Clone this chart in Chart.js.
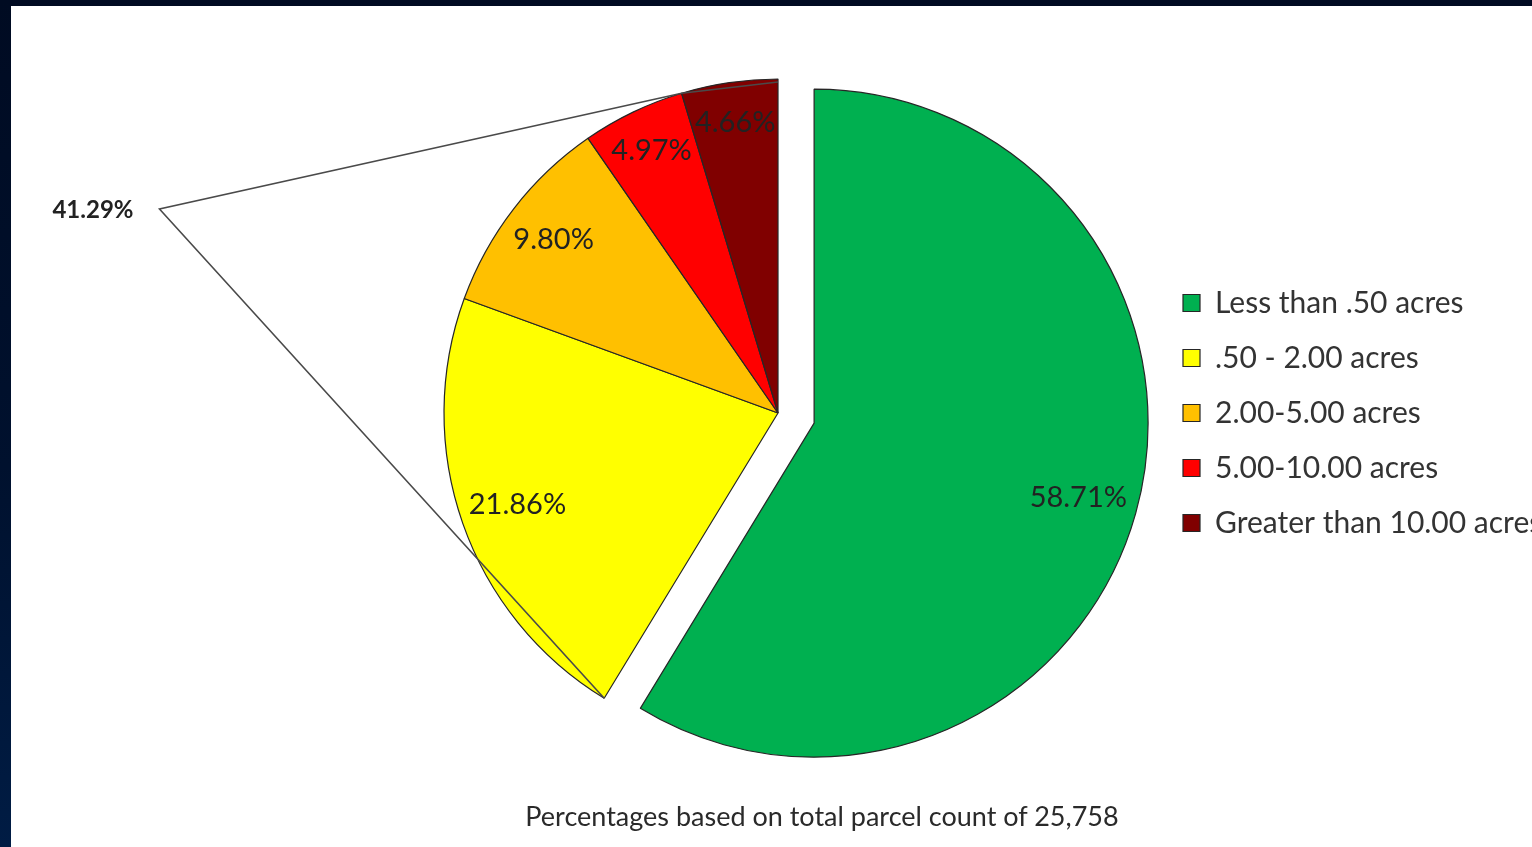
<!DOCTYPE html>
<html>
<head>
<meta charset="utf-8">
<title>Parcel size distribution</title>
<script src="https://cdn.jsdelivr.net/npm/chart.js@4.4.0/dist/chart.umd.min.js"></script>
<style>
  html, body { margin: 0; padding: 0; width: 1532px; height: 847px; overflow: hidden; }
  body { position: relative; background: linear-gradient(180deg, #000b22 0%, #00112e 55%, #001c44 100%); }
  #panel { position: absolute; left: 11px; top: 6px; width: 1521px; height: 841px; background: #fff; overflow: hidden; }
  #myChartPie { position: absolute; left: 0; top: 0; }
  #note { position: absolute; left: 361px; width: 900px; top: 794px; text-align: center;
          font-family: Lato, sans-serif; font-size: 27px; line-height: 32px; color: #2a2a2a; }
</style>
</head>
<body>
<div id="panel">
  <canvas id="myChartPie"></canvas>
  <div id="note">Percentages based on total parcel count of 25,758</div>
</div>
<script>
const categories = ["Less than .50 acres", ".50 - 2.00 acres", "2.00-5.00 acres", "5.00-10.00 acres", "Greater than 10.00 acres"];
const percentValues = [58.71, 21.86, 9.80, 4.97, 4.66];

const labelFamily = "Lato";
const legendSize = 30;
const boxSize = 17;
const rowGap = 55 - Math.max(legendSize, boxSize);
const pieRadius = 334;
const greenShift = 37.5; // how far the first slice is pulled out

// width of the legend column, so the legend lands where it sits in the picture
const probe = document.createElement("canvas").getContext("2d");
probe.font = legendSize + "px " + labelFamily;
const colWidth = boxSize + legendSize / 2 + Math.max(...categories.map(t => probe.measureText(t).width));
const legendBoxLeft = 1172;
const canvasWidth = Math.ceil(legendBoxLeft + 10 + colWidth) + 2;
const padRight = canvasWidth - (legendBoxLeft + 10 + colWidth);
const padLeft = 2 * 767 - (legendBoxLeft - rowGap);

const cv = document.getElementById("myChartPie");
cv.width = canvasWidth; cv.height = 841;
cv.style.width = canvasWidth + "px"; cv.style.height = "841px";

// keep the pulled-out slice the same size and angle as drawn in the original
// (v4 grows an offset slice by offset/4 and trims its angle a little)
const keepRadius = {
  id: "keepRadius",
  afterDatasetsUpdate(chart) {
    const arc = chart.getDatasetMeta(0).data[0];
    const off = (arc.options.offset || 0) / 4;
    arc.outerRadius = arc.outerRadius - off;
    const widen = off / (2 * Math.PI * (arc.outerRadius + off));
    arc.startAngle -= widen;
    arc.endAngle += widen;
  }
};

const sliceLabels = {
  id: "sliceLabels",
  afterDatasetsDraw(chart) {
    const ctx = chart.ctx;
    const meta = chart.getDatasetMeta(0);
    const arcs = meta.data;
    const R = meta.controller.outerRadius;
    const cx = arcs[1].x, cy = arcs[1].y;

    // connector lines of the 41.29% group
    const first = arcs[1], last = arcs[arcs.length - 1], beforeLast = arcs[arcs.length - 2];
    const mid = (first.startAngle + last.endAngle) / 2 + 0.045;
    const apex = { x: cx + Math.cos(mid) * R * 1.95, y: cy + Math.sin(mid) * R * 1.95 };
    const pt = a => ({ x: cx + Math.cos(a) * R, y: cy + Math.sin(a) * R });
    const p1 = pt(first.startAngle), p2 = pt(beforeLast.endAngle), p3 = pt(last.endAngle);
    ctx.save();
    ctx.strokeStyle = "#4a4a4a";
    ctx.lineWidth = 1.6;
    ctx.beginPath();
    ctx.moveTo(p1.x, p1.y);
    ctx.lineTo(apex.x, apex.y);
    ctx.lineTo(p2.x, p2.y);
    ctx.lineTo(p3.x, p3.y + 3);
    ctx.stroke();

    const rest = percentValues.slice(1).reduce((s, v) => s + v, 0);
    ctx.font = "bold 24px " + labelFamily;
    ctx.fillStyle = "#222";
    ctx.textAlign = "right";
    ctx.textBaseline = "middle";
    ctx.fillText(rest.toFixed(2) + "%", apex.x - 26, apex.y + 1);

    // percentage in each slice, pushed nearer the rim towards the top
    ctx.font = "29px " + labelFamily;
    ctx.textAlign = "center";
    arcs.forEach((arc, i) => {
      const off = (arc.options.offset || 0) / 4;
      const m = (arc.startAngle + arc.endAngle) / 2;
      const ox = arc.x + Math.cos(m) * off, oy = arc.y + Math.sin(m) * off;
      const d = R * (0.80 + 0.08 * Math.abs(Math.sin(m)));
      ctx.fillText(percentValues[i].toFixed(2) + "%", ox + Math.cos(m) * d, oy + Math.sin(m) * d);
    });
    ctx.restore();
  }
};

const myChartPie = new Chart(cv, {
  type: "pie",
  data: {
    labels: categories,
    datasets: [{
      data: percentValues,
      backgroundColor: ["#00b050", "#ffff00", "#ffc000", "#ff0000", "#800000"],
      borderColor: "#262626",
      borderWidth: 1.2,
      offset: [greenShift * 4, 0, 0, 0, 0],
      radius: pieRadius
    }]
  },
  options: {
    responsive: false,
    animation: false,
    layout: { padding: { left: padLeft, right: padRight, top: 0, bottom: 841 - 2 * 407 } },
    plugins: {
      tooltip: { enabled: false },
      legend: {
        position: "right",
        align: "center",
        labels: {
          boxWidth: boxSize,
          boxHeight: boxSize,
          padding: rowGap,
          color: "#333",
          font: { family: labelFamily, size: legendSize }
        }
      }
    }
  },
  plugins: [keepRadius, sliceLabels]
});
</script>
</body>
</html>
